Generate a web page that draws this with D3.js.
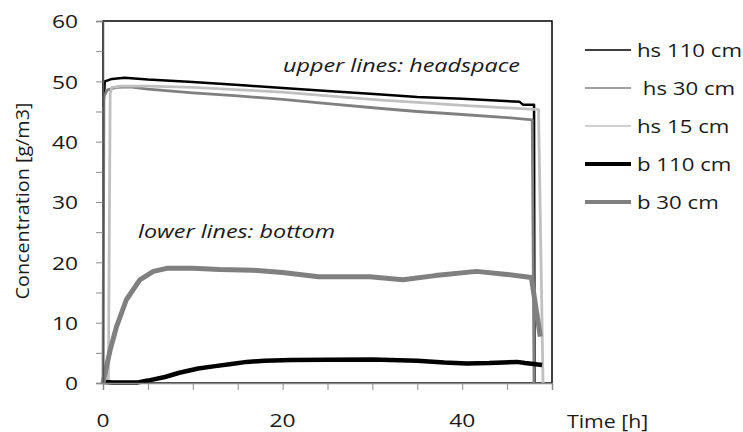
<!DOCTYPE html>
<html>
<head>
<meta charset="utf-8">
<script src="https://cdn.jsdelivr.net/npm/d3@7"></script>
<style>
  body { margin: 0; background: #fff; }
  svg text { font-family: "Open Sans", sans-serif; fill: #1a1a1a; }
</style>
</head>
<body>
<svg id="chart" width="743" height="432"></svg>
<script>
// series as [time h, concentration g/m3]
const hs110 = [[0.05,45.8],[0.2,50.0],[1,50.4],[2.4,50.6],[5,50.3],[10,49.9],[16,49.3],[20,48.9],[25,48.4],[31,47.8],[35,47.4],[40,47.1],[46.4,46.6],[46.8,46.1],[48.0,46.1],[48.05,0]];
const hs30 = [[0,0],[0.1,47.5],[0.5,48.6],[1.5,49.0],[3,49.1],[5,48.7],[10,48.1],[15,47.6],[20,47.0],[25,46.3],[31,45.5],[35,45.0],[40,44.5],[45,44.0],[47.8,43.6],[48.0,0]];
const hs15 = [[0,0],[0.6,0],[0.8,48],[1,49.0],[2,49.2],[5,49.2],[10,49.0],[15.3,48.6],[20,48.2],[25,47.6],[31,46.9],[35,46.5],[40,46.0],[45,45.6],[48.5,45.3],[49,0]];
const b110 = [[0,0.2],[1,0.1],[3.9,0.1],[5,0.4],[6.9,1.0],[8.5,1.7],[10.6,2.4],[12.5,2.8],[14.3,3.15],[16,3.5],[18,3.7],[21,3.8],[25,3.85],[30,3.9],[35,3.7],[38,3.4],[40.5,3.25],[43,3.3],[46.1,3.5],[47,3.3],[48.9,3.0]];
const b30 = [[0,0],[0.8,5.5],[1.5,9.3],[2.6,13.8],[4.1,17.1],[5.6,18.5],[7.1,19.0],[10,19.0],[13,18.8],[16.6,18.7],[20,18.3],[24,17.6],[29.7,17.6],[33.4,17.1],[37,17.8],[41.6,18.5],[45,18.0],[47.7,17.5],[48.7,7.7]];

const seriesNames = ['hs 110 cm', ' hs 30 cm', 'hs 15 cm', 'b 110 cm', 'b 30 cm'];
const seriesData = [hs110, hs30, hs15, b110, b30];
const xTicks = d3.range(0, 51, 5);
const xLabels = [0, 20, 40];
const yTicks = d3.range(0, 61, 5);
const yLabels = [0, 10, 20, 30, 40, 50, 60];

const styles = [
  { color: '#000000', width: 2.5, legendWidth: 1.6 },
  { color: '#808080', width: 2.8, legendWidth: 1.6 },
  { color: '#c0c0c0', width: 2.8, legendWidth: 1.6 },
  { color: '#000000', width: 4.5, legendWidth: 3.8 },
  { color: '#808080', width: 5, legendWidth: 3.8 }
];

const FS = 19;

const svg = d3.select('#chart');
const plotLeft = 103, plotRight = 552, plotTop = 21, plotBottom = 383;

const x = d3.scaleLinear().domain([0, 50]).range([plotLeft, plotRight]);
const y = d3.scaleLinear().domain([0, 60]).range([plotBottom, plotTop]);

// the picture's text is stretched sideways, so each text gets a small x scale
function putText(txt, tx, ty, anchor, sx, italic) {
  return svg.append('text')
    .attr('transform', `translate(${tx},${ty}) scale(${sx},1)`)
    .attr('text-anchor', anchor || 'start')
    .attr('dominant-baseline', 'central')
    .style('font-size', FS + 'px')
    .style('font-style', italic ? 'italic' : 'normal')
    .style('white-space', 'pre')
    .text(txt);
}

// frame (top and right are black)
svg.append('rect')
  .attr('x', plotLeft).attr('y', plotTop)
  .attr('width', plotRight - plotLeft).attr('height', plotBottom - plotTop)
  .attr('fill', 'none').attr('stroke', '#000').attr('stroke-width', 1.5);

// lines
const line = d3.line().x(d => x(d[0])).y(d => y(d[1]));
seriesData.forEach((s, i) => {
  svg.append('path')
    .datum(s)
    .attr('fill', 'none')
    .attr('stroke', styles[i].color)
    .attr('stroke-width', styles[i].width)
    .attr('stroke-linejoin', 'round')
    .attr('d', line);
});

// axes
const yAxis = svg.append('g')
  .attr('transform', `translate(${plotLeft},0)`)
  .call(d3.axisLeft(y).tickValues(yTicks).tickSize(7).tickFormat(''));
const xAxis = svg.append('g')
  .attr('transform', `translate(0,${plotBottom})`)
  .call(d3.axisBottom(x).tickValues(xTicks).tickSize(7).tickFormat(''));
yAxis.select('.domain').attr('stroke', '#555').attr('stroke-width', 1.5);
xAxis.select('.domain').attr('stroke', '#8a8a8a').attr('stroke-width', 1.5);
svg.selectAll('.tick line').attr('stroke', '#8a8a8a');

yLabels.forEach(v => putText(String(v), plotLeft - 25, y(v), 'end', 1.2));
xLabels.forEach(v => putText(String(v), x(v), 420, 'middle', 1.2));

putText('Time [h]', 567, 420, 'start', 1.12);

svg.append('text')
  .attr('transform', `translate(22,201) rotate(-90) scale(1.04,1)`)
  .attr('text-anchor', 'middle')
  .attr('dominant-baseline', 'central')
  .style('font-size', FS + 'px')
  .text('Concentration [g/m3]');

putText('upper lines: headspace', 283, 64, 'start', 1.23, true);
putText('lower lines: bottom', 138, 230, 'start', 1.23, true);

// legend
seriesNames.forEach((name, i) => {
  const ly = 50 + i * 38;
  svg.append('line')
    .attr('x1', 585).attr('x2', 631)
    .attr('y1', ly).attr('y2', ly)
    .attr('stroke', styles[i].color)
    .attr('stroke-width', styles[i].legendWidth);
  putText(name, 637, ly, 'start', 1.17);
});
</script>
</body>
</html>
